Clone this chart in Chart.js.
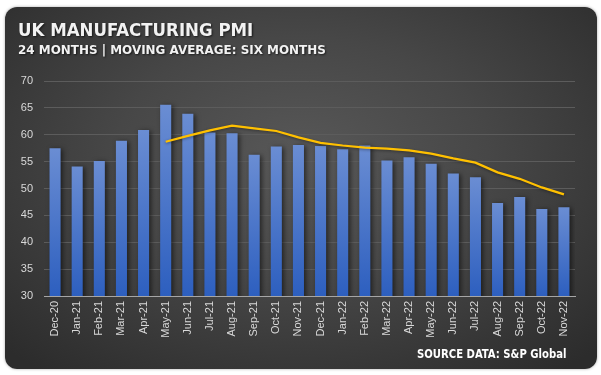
<!DOCTYPE html>
<html>
<head>
<meta charset="utf-8">
<script src="https://cdn.jsdelivr.net/npm/chart.js@4"></script>
<style>
  html, body { margin: 0; padding: 0; background: #fff; }
  #card {
    position: absolute; left: 5px; top: 7px; width: 592px; height: 362px;
    border-radius: 12px; overflow: hidden;
    background: radial-gradient(ellipse 70% 75% at 50% 42%, #585858 0%, #474747 45%, #2c2c2c 100%);
    box-shadow: 0 0 3px rgba(0,0,0,0.35);
  }
  #wrap { position: absolute; left: 0; top: 0; width: 601px; height: 375px; }
  .txt {
    position: absolute; color: #f2f2f2; font-family: "DejaVu Sans Condensed", "DejaVu Sans";
    font-weight: bold; white-space: nowrap; transform-origin: 0 0; line-height: 1;
    text-shadow: 1px 1px 2px rgba(0,0,0,0.6);
  }
  #title { left: 18px; top: 21px; font-size: 18px; }
  #subtitle { left: 18px; top: 44px; font-size: 12.5px; }
  #source { left: 417px; top: 347px; font-size: 13px; color: #fff; text-shadow: none; }
</style>
</head>
<body>
<div id="card"></div>
<div id="wrap"><canvas id="pmiChart" width="601" height="375"></canvas></div>
<div class="txt" id="title" data-w="235">UK MANUFACTURING PMI</div>
<div class="txt" id="subtitle" data-w="308">24 MONTHS | MOVING AVERAGE: SIX MONTHS</div>
<div class="txt" id="source" data-w="149">SOURCE DATA: S&amp;P Global</div>
<script>
// chart data
const months = ['Dec-20','Jan-21','Feb-21','Mar-21','Apr-21','May-21','Jun-21','Jul-21','Aug-21','Sep-21','Oct-21','Nov-21',
                'Dec-21','Jan-22','Feb-22','Mar-22','Apr-22','May-22','Jun-22','Jul-22','Aug-22','Sep-22','Oct-22','Nov-22'];
const pmi = [57.5, 54.1, 55.1, 58.9, 60.9, 65.6, 63.9, 60.4, 60.3, 56.3, 57.8, 58.1,
             57.9, 57.3, 58.0, 55.2, 55.8, 54.6, 52.8, 52.1, 47.3, 48.4, 46.2, 46.5];
const movingAvg = [null, null, null, null, null, 58.7, 59.8, 60.8, 61.7, 61.2, 60.7, 59.5,
                   58.5, 58.0, 57.6, 57.4, 57.1, 56.5, 55.6, 54.8, 53.0, 51.8, 50.2, 48.9];
const yTicks = [30, 35, 40, 45, 50, 55, 60, 65, 70];

// squeeze the condensed headings to the widths in the picture
document.querySelectorAll('.txt').forEach(el => {
    const w = +el.dataset.w;
    el.style.transform = 'scaleX(' + (w / el.offsetWidth) + ')';
});

function barGradient(context) {
    const chart = context.chart;
    const area = chart.chartArea;
    if (!area || context.raw == null) return '#4a77cc';
    const top = chart.scales.y.getPixelForValue(context.raw);
    const g = chart.ctx.createLinearGradient(0, top, 0, area.bottom);
    g.addColorStop(0, '#6a8dd3');
    g.addColorStop(1, '#2d5fbf');
    return g;
}

const barShadow = {
    id: 'barShadow',
    beforeDatasetDraw(chart, args) {
        const ctx = chart.ctx;
        ctx.save();
        if (args.meta.type === 'bar') {
            ctx.shadowColor = 'rgba(0,0,0,0.55)';
            ctx.shadowBlur = 5;
            ctx.shadowOffsetX = 2;
            ctx.shadowOffsetY = 1;
        } else {
            ctx.shadowColor = 'rgba(0,0,0,0.4)';
            ctx.shadowBlur = 3;
            ctx.shadowOffsetY = 1;
        }
    },
    afterDatasetDraw(chart) {
        chart.ctx.restore();
    }
};

new Chart(document.getElementById('pmiChart'), {
    type: 'bar',
    data: {
        labels: months,
        datasets: [
            {
                type: 'line',
                label: '6 per. Mov. Avg.',
                data: movingAvg,
                borderColor: '#ffc000',
                borderWidth: 2.25,
                pointRadius: 0,
                tension: 0,
                spanGaps: false,
                order: 0
            },
            {
                label: 'PMI',
                data: pmi,
                backgroundColor: barGradient,
                barPercentage: 0.5,
                categoryPercentage: 1,
                order: 1
            }
        ]
    },
    plugins: [barShadow],
    options: {
        responsive: false,
        animation: false,
        events: [],
        layout: { padding: { left: 0, top: 81, right: 26, bottom: 0 } },
        plugins: {
            legend: { display: false },
            tooltip: { enabled: false }
        },
        scales: {
            x: {
                afterFit: s => { s.height = 79; },
                grid: { display: false, drawTicks: false },
                border: { color: '#a6a6a6', width: 1 },
                ticks: {
                    color: '#d9d9d9',
                    font: { family: 'Liberation Sans', size: 11 },
                    minRotation: 90, maxRotation: 90,
                    autoSkip: false,
                    padding: 5
                }
            },
            y: {
                min: 30, max: 70,
                afterFit: s => { s.width = 44; },
                afterBuildTicks: s => { s.ticks = yTicks.map(v => ({ value: v })); },
                grid: { color: '#5c5c5c', lineWidth: 1, drawTicks: false },
                border: { display: false },
                ticks: {
                    color: '#d9d9d9',
                    font: { family: 'Liberation Sans', size: 11 },
                    padding: 11
                }
            }
        }
    }
});
</script>
</body>
</html>
